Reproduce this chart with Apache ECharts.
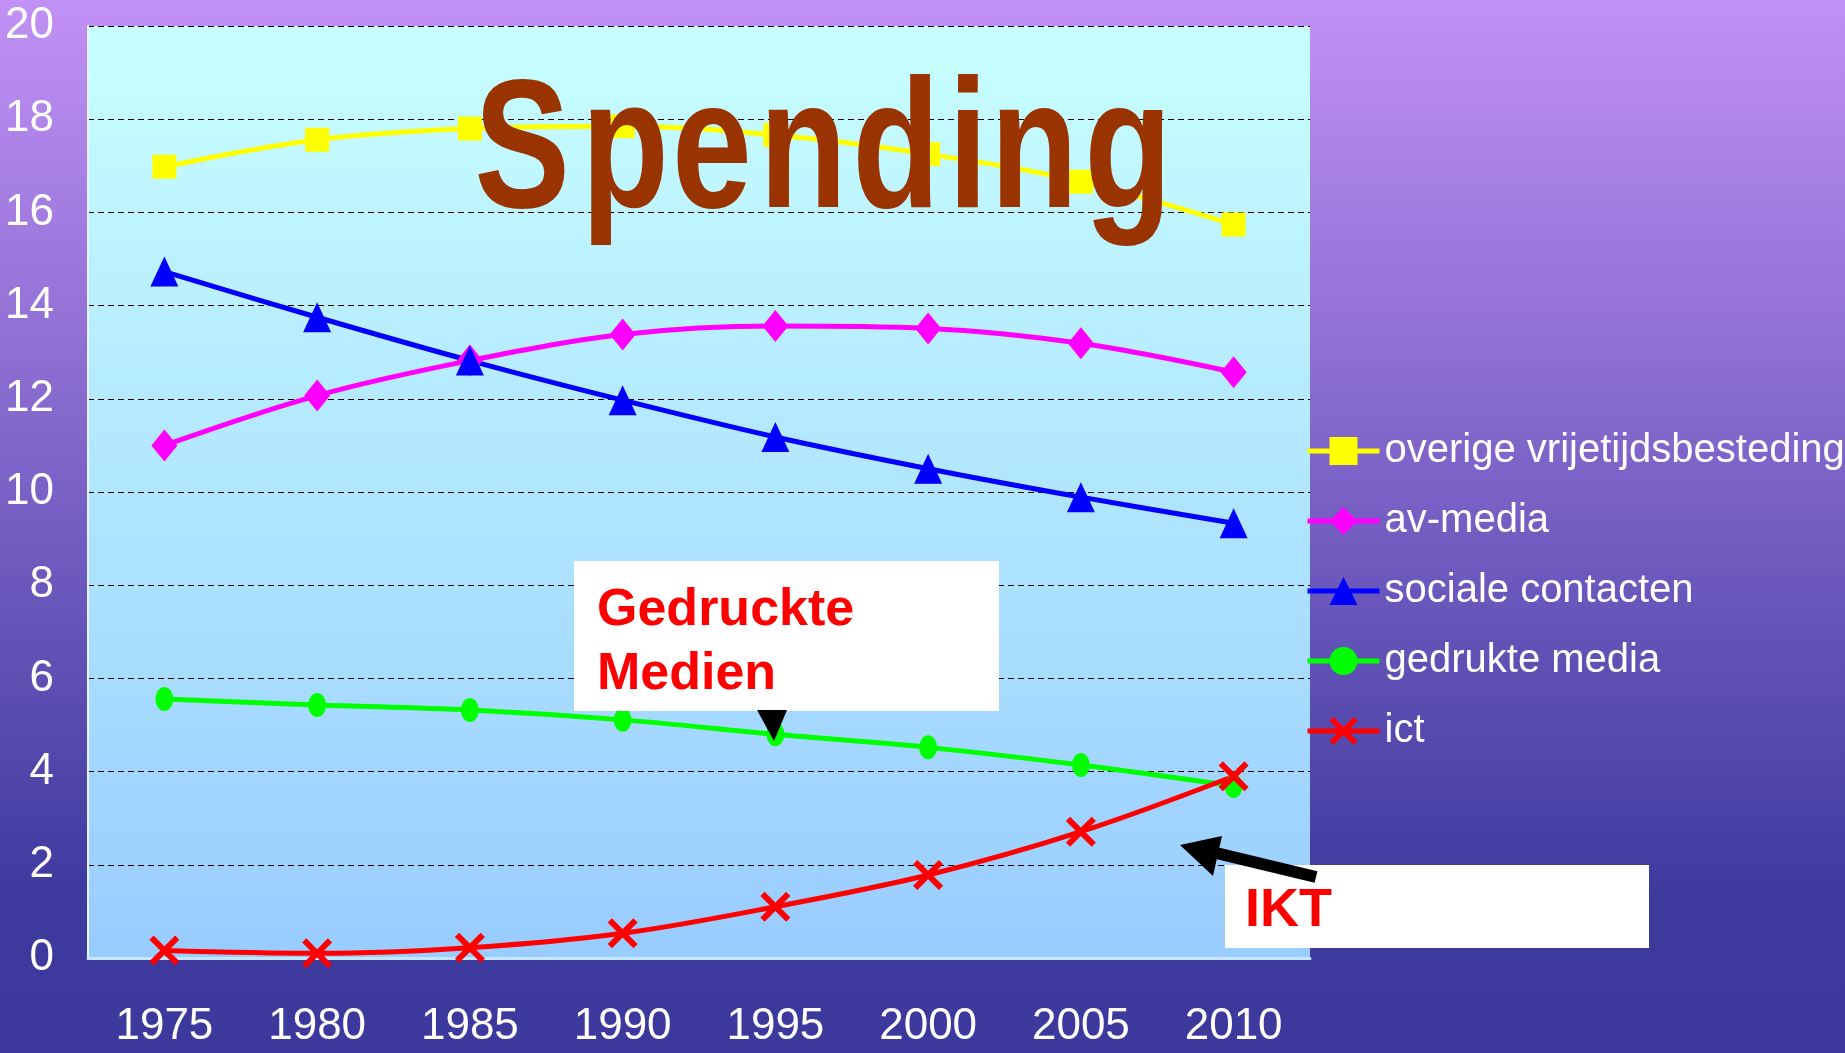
<!DOCTYPE html>
<html>
<head>
<meta charset="utf-8">
<title>Spending</title>
<script src="https://cdn.jsdelivr.net/npm/echarts@6/dist/echarts.min.js"></script>
<style>
  html, body { margin: 0; padding: 0; }
  #chart { width: 1845px; height: 1053px; }
</style>
</head>
<body>
<div id="chart"></div>
<script>
// data
const years = ['1975', '1980', '1985', '1990', '1995', '2000', '2005', '2010'];
const overige = [16.98, 17.56, 17.8, 17.85, 17.66, 17.25, 16.66, 15.74];
const avMedia = [11.0, 12.07, 12.82, 13.38, 13.56, 13.51, 13.19, 12.57];
const sociale = [14.73, 13.75, 12.82, 11.97, 11.18, 10.5, 9.89, 9.33];
const gedrukte = [5.56, 5.43, 5.32, 5.11, 4.8, 4.52, 4.14, 3.69];
const ict = [0.16, 0.1, 0.22, 0.53, 1.1, 1.78, 2.71, 3.9];
const seriesNames = ['overige vrijetijdsbesteding', 'av-media', 'sociale contacten', 'gedrukte media', 'ict'];

const narrow = "'Liberation Sans Narrow', 'Arial Narrow', 'Liberation Sans', sans-serif";
const xPath = 'path://M0,14L14,0L50,36L86,0L100,14L64,50L100,86L86,100L50,64L14,100L0,86L36,50Z';

// title is spaced out like the slide: one text per letter
const titleLetters = ['S', 'p', 'e', 'n', 'd', 'i', 'n', 'g'];
const titleCenters = [522, 625, 712, 803, 896, 968, 1034, 1128];

var myChart = echarts.init(document.getElementById('chart'));

function lineSeries(name, data, color, symbol, size) {
  return {
    name: name,
    type: 'line',
    smooth: 0.35,
    data: data,
    symbol: symbol,
    symbolSize: size,
    showSymbol: true,
    lineStyle: { color: color, width: 5 },
    itemStyle: { color: color },
    z: 3
  };
}

var titleGraphics = titleLetters.map(function (ch, i) {
  return {
    type: 'text',
    z: 100,
    x: titleCenters[i],
    y: 156,
    scaleX: 0.78,
    style: {
      x: 0,
      y: 0,
      text: ch,
      fill: '#993300',
      font: 'bold 184px "Liberation Sans", Arial, sans-serif',
      textAlign: 'center',
      textVerticalAlign: 'middle'
    }
  };
});

var option = {
  animation: false,
  backgroundColor: new echarts.graphic.LinearGradient(0, 0, 0, 1, [
    { offset: 0, color: '#c291f5' },
    { offset: 0.85, color: '#3e3a9e' },
    { offset: 1, color: '#3d399c' }
  ]),
  grid: {
    left: 88,
    right: 535,
    top: 26,
    bottom: 95,
    show: true,
    borderWidth: 0,
    backgroundColor: new echarts.graphic.LinearGradient(0, 0, 0, 1, [
      { offset: 0, color: '#c8ffff' },
      { offset: 1, color: '#99ccff' }
    ])
  },
  legend: {
    data: seriesNames,
    orient: 'vertical',
    left: 1300,
    top: 426,
    itemWidth: 72,
    itemHeight: 35,
    itemGap: 30,
    lineStyle: { width: 5 },
    textStyle: {
      color: '#ffffff',
      fontSize: 40,
      lineHeight: 40,
      fontFamily: narrow,
      padding: [0, 0, 0, 0]
    }
  },
  xAxis: {
    type: 'category',
    data: years,
    boundaryGap: true,
    axisTick: { show: false },
    axisLine: { show: true, lineStyle: { color: '#c4e6ff', width: 3 } },
    axisLabel: {
      color: '#ffffff',
      fontSize: 44,
      fontFamily: narrow,
      margin: 47
    }
  },
  yAxis: {
    type: 'value',
    min: 0,
    max: 20,
    interval: 2,
    axisLine: { show: true, lineStyle: { color: '#e6f6ff', width: 2 } },
    axisTick: { show: false },
    axisLabel: {
      color: '#ffffff',
      fontSize: 44,
      fontFamily: narrow,
      margin: 34
    },
    splitLine: {
      show: true,
      lineStyle: { color: '#000000', type: [6, 4], width: 1 }
    }
  },
  series: [
    lineSeries(seriesNames[0], overige, '#ffff00', 'rect', 24),
    lineSeries(seriesNames[1], avMedia, '#ff00ff', 'diamond', [26, 32]),
    lineSeries(seriesNames[2], sociale, '#0000ff', 'triangle', [28, 30]),
    lineSeries(seriesNames[3], gedrukte, '#00ff00', 'circle', [18, 24]),
    lineSeries(seriesNames[4], ict, '#ff0000', xPath, 30)
  ],
  graphic: titleGraphics.concat([
    {
      type: 'rect',
      z: 100,
      shape: { x: 574, y: 561, width: 425, height: 150 },
      style: { fill: '#ffffff' }
    },
    {
      type: 'text',
      z: 101,
      style: {
        x: 597, y: 611,
        text: 'Gedruckte',
        fill: '#ff0000',
        font: 'bold 52px "Liberation Sans", Arial, sans-serif',
        textVerticalAlign: 'middle'
      }
    },
    {
      type: 'text',
      z: 101,
      style: {
        x: 597, y: 675,
        text: 'Medien',
        fill: '#ff0000',
        font: 'bold 52px "Liberation Sans", Arial, sans-serif',
        textVerticalAlign: 'middle'
      }
    },
    {
      type: 'polygon',
      z: 101,
      shape: { points: [[757, 710], [787, 710], [774, 741]] },
      style: { fill: '#000000' }
    },
    {
      type: 'rect',
      z: 100,
      shape: { x: 1225, y: 865, width: 424, height: 83 },
      style: { fill: '#ffffff' }
    },
    {
      type: 'text',
      z: 101,
      style: {
        x: 1245, y: 911,
        text: 'IKT',
        fill: '#ff0000',
        font: 'bold 54px "Liberation Sans", Arial, sans-serif',
        textVerticalAlign: 'middle'
      }
    },
    {
      type: 'line',
      z: 102,
      shape: { x1: 1316, y1: 877, x2: 1212, y2: 852 },
      style: { stroke: '#000000', lineWidth: 12 }
    },
    {
      type: 'polygon',
      z: 102,
      shape: { points: [[1180, 845], [1222, 836], [1213, 876]] },
      style: { fill: '#000000' }
    }
  ])
};

myChart.setOption(option, true);
</script>
</body>
</html>
